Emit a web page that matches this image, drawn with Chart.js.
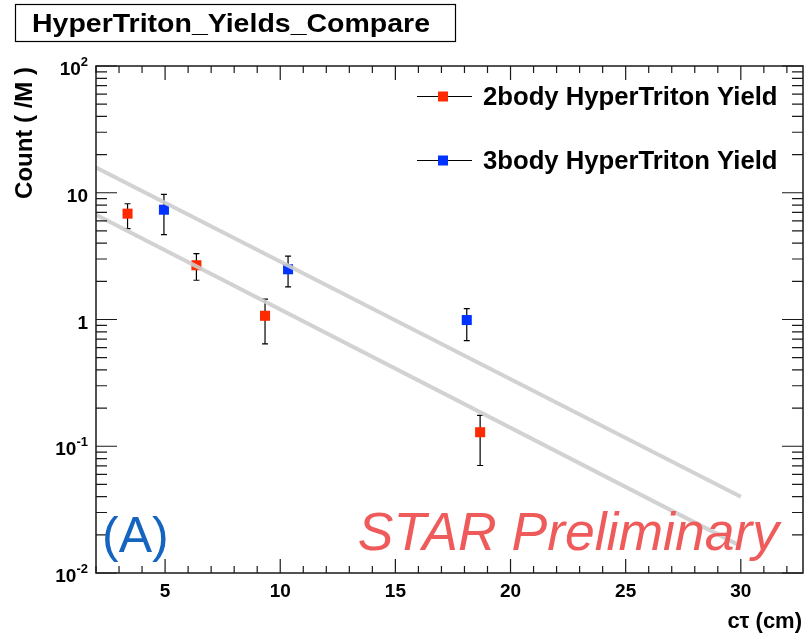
<!DOCTYPE html>
<html>
<head>
<meta charset="utf-8">
<title>HyperTriton_Yields_Compare</title>
<script src="https://cdn.jsdelivr.net/npm/chart.js@4.4.1/dist/chart.umd.min.js"></script>
<style>
  html, body { margin: 0; padding: 0; background: #ffffff; }
  canvas { display: block; }
</style>
</head>
<body>
<canvas id="chart" width="804" height="634"></canvas>
<script>
// Tick labels
const xTickValues = [5, 10, 15, 20, 25, 30];
const yTickValues = [0.01, 0.1, 1, 10, 100];
const yTickBase = ['10', '10', '1', '10', '10'];
const yTickExp = ['-2', '-1', '', '', '2'];

// 2body yields (x = c*tau in cm, y = count per M)
const ctau2body = [3.37, 6.36, 9.34, 18.68];
const yield2body = [6.84, 2.68, 1.07, 0.129];
const yield2bodyHigh = [8.19, 3.31, 1.45, 0.175];
const yield2bodyLow = [5.21, 2.04, 0.642, 0.0705];

// 3body yields
const ctau3body = [4.95, 10.34, 18.1];
const yield3body = [7.35, 2.49, 0.99];
const yield3bodyHigh = [9.7, 3.16, 1.22];
const yield3bodyLow = [4.68, 1.81, 0.681];

// exponential fits, end points only (straight on a log axis)
const fitCtau = [2, 30];
const fit2body = [6.7, 0.0163];
const fit3body = [15.8, 0.040];

const legendLabels = ['2body HyperTriton Yield', '3body HyperTriton Yield'];
const RED = '#ff2a00';
const BLUE = '#0033ff';
const FONT = '"Liberation Sans", Arial, Helvetica, sans-serif';

function toPoints(xs, ys) {
  return xs.map((x, i) => ({ x: x, y: ys[i] }));
}

const errorBars = {
  id: 'errorBars',
  beforeDatasetsDraw(chart) {
    const ctx = chart.ctx;
    const xs = chart.scales.x;
    const ys = chart.scales.y;
    const sets = [
      [ctau2body, yield2bodyLow, yield2bodyHigh],
      [ctau3body, yield3bodyLow, yield3bodyHigh]
    ];
    ctx.save();
    ctx.strokeStyle = '#000000';
    ctx.lineWidth = 1.2;
    sets.forEach(([cx, lo, hi]) => {
      cx.forEach((x, i) => {
        const px = xs.getPixelForValue(x);
        const p1 = ys.getPixelForValue(lo[i]);
        const p2 = ys.getPixelForValue(hi[i]);
        ctx.beginPath();
        ctx.moveTo(px, p1); ctx.lineTo(px, p2);
        ctx.moveTo(px - 3, p1); ctx.lineTo(px + 3, p1);
        ctx.moveTo(px - 3, p2); ctx.lineTo(px + 3, p2);
        ctx.stroke();
      });
    });
    ctx.restore();
  }
};

const rootFrame = {
  id: 'rootFrame',
  afterDraw(chart) {
    const ctx = chart.ctx;
    const a = chart.chartArea;
    const xs = chart.scales.x;
    const ys = chart.scales.y;
    ctx.save();

    // frame
    ctx.strokeStyle = '#1a1a1a';
    ctx.lineWidth = 1.5;
    ctx.strokeRect(a.left, a.top, a.right - a.left, a.bottom - a.top);

    // x ticks, inside, bottom and top
    ctx.lineWidth = 1.2;
    ctx.beginPath();
    for (let v = Math.ceil(xs.min); v <= xs.max; v++) {
      const px = xs.getPixelForValue(v);
      const len = (v % 5 === 0) ? 14 : 7;
      ctx.moveTo(px, a.bottom); ctx.lineTo(px, a.bottom - len);
      ctx.moveTo(px, a.top); ctx.lineTo(px, a.top + len);
    }
    // y ticks, inside, left and right
    for (let e = -2; e < 2; e++) {
      for (let k = 1; k <= 10; k++) {
        const v = k * Math.pow(10, e);
        const py = ys.getPixelForValue(v);
        const len = (k === 1 || k === 10) ? 21 : 11;
        ctx.moveTo(a.left, py); ctx.lineTo(a.left + len, py);
        ctx.moveTo(a.right, py); ctx.lineTo(a.right - len, py);
      }
    }
    ctx.stroke();

    // x tick labels
    ctx.fillStyle = '#000000';
    ctx.font = 'bold 19px ' + FONT;
    ctx.textAlign = 'center';
    ctx.textBaseline = 'alphabetic';
    xTickValues.forEach(v => {
      ctx.fillText(String(v), xs.getPixelForValue(v), a.bottom + 24);
    });

    // y tick labels with superscripts
    yTickValues.forEach((v, i) => {
      const py = ys.getPixelForValue(v);
      let right = 88;
      ctx.textAlign = 'right';
      if (yTickExp[i]) {
        ctx.font = 'bold 13px ' + FONT;
        ctx.fillText(yTickExp[i], right, py);
        right -= ctx.measureText(yTickExp[i]).width;
      }
      ctx.font = 'bold 19px ' + FONT;
      ctx.fillText(yTickBase[i], right, py + 9);
    });

    // axis titles
    ctx.font = 'bold 22px ' + FONT;
    ctx.textAlign = 'right';
    ctx.fillText('c\u03c4 (cm)', 802, 628);
    ctx.save();
    ctx.translate(32, 67);
    ctx.rotate(-Math.PI / 2);
    ctx.font = 'bold 24px ' + FONT;
    ctx.textAlign = 'right';
    ctx.fillText('Count ( /M )', 0, 0);
    ctx.restore();

    // legend
    const legendY = [96, 160];
    const legendColors = [RED, BLUE];
    legendLabels.forEach((label, i) => {
      ctx.strokeStyle = '#000000';
      ctx.lineWidth = 1;
      ctx.beginPath();
      ctx.moveTo(417, legendY[i] + 0.5); ctx.lineTo(472, legendY[i] + 0.5);
      ctx.stroke();
      ctx.fillStyle = legendColors[i];
      ctx.fillRect(438, legendY[i] - 4.5, 10, 10);
      ctx.fillStyle = '#000000';
      ctx.font = 'bold 25.7px ' + FONT;
      ctx.textAlign = 'left';
      ctx.fillText(label, 483, legendY[i] + 8.5);
    });

    // title box
    ctx.fillStyle = '#ffffff';
    ctx.fillRect(15, 4, 440, 38);
    ctx.strokeStyle = '#000000';
    ctx.lineWidth = 1.2;
    ctx.strokeRect(15.5, 4.5, 440, 37);
    ctx.fillStyle = '#000000';
    ctx.font = 'bold 25px ' + FONT;
    ctx.textAlign = 'left';
    const title = 'HyperTriton_Yields_Compare';
    const k = 398 / ctx.measureText(title).width;
    ctx.save();
    ctx.translate(32, 32);
    ctx.scale(k, 1);
    ctx.fillText(title, 0, 0);
    ctx.restore();

    // annotations
    ctx.fillStyle = '#1565c0';
    ctx.font = '50px ' + FONT;
    ctx.fillText('(A)', 102, 552);
    ctx.fillStyle = '#ef5b5b';
    ctx.font = 'italic 53.5px ' + FONT;
    ctx.textAlign = 'right';
    ctx.fillText('STAR Preliminary', 779, 550);

    ctx.restore();
  }
};

new Chart(document.getElementById('chart'), {
  type: 'scatter',
  data: {
    datasets: [
      {
        label: '2body fit',
        data: toPoints(fitCtau, fit2body),
        showLine: true,
        borderColor: 'rgba(205,205,205,0.9)',
        borderWidth: 4,
        pointRadius: 0,
        order: 0
      },
      {
        label: '3body fit',
        data: toPoints(fitCtau, fit3body),
        showLine: true,
        borderColor: 'rgba(205,205,205,0.9)',
        borderWidth: 4,
        pointRadius: 0,
        order: 0
      },
      {
        label: legendLabels[0],
        data: toPoints(ctau2body, yield2body),
        pointStyle: 'rect',
        pointRadius: 7.1,
        pointBorderWidth: 0,
        backgroundColor: RED,
        borderColor: RED,
        order: 1
      },
      {
        label: legendLabels[1],
        data: toPoints(ctau3body, yield3body),
        pointStyle: 'rect',
        pointRadius: 7.1,
        pointBorderWidth: 0,
        backgroundColor: BLUE,
        borderColor: BLUE,
        order: 1
      }
    ]
  },
  options: {
    responsive: false,
    animation: false,
    layout: {
      autoPadding: false,
      padding: { left: 96, right: 1, top: 66, bottom: 61 }
    },
    plugins: {
      legend: { display: false },
      tooltip: { enabled: false },
      title: { display: false }
    },
    scales: {
      x: { type: 'linear', min: 2, max: 32.7, display: false },
      y: { type: 'logarithmic', min: 0.01, max: 100, display: false }
    }
  },
  plugins: [errorBars, rootFrame]
});
</script>
</body>
</html>
